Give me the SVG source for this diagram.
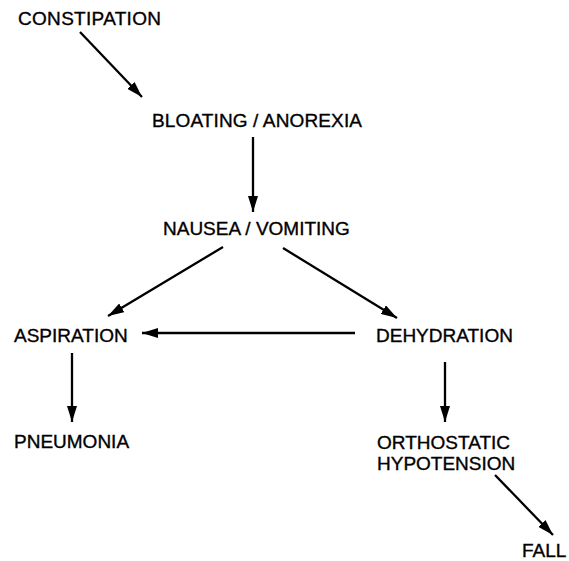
<svg xmlns="http://www.w3.org/2000/svg" width="569" height="561" viewBox="0 0 569 561">
  <style>
    .lbl { font-family: "Liberation Sans", Arial, sans-serif; font-size: 19px; fill: #000; stroke: #000; stroke-width: 0.35; }
    .edge { stroke: #000; stroke-width: 2.3; fill: none; marker-end: url(#head); }
  </style>
  <defs>
    <marker id="head" viewBox="0 0 16 10" refX="16" refY="5" markerWidth="16" markerHeight="10" markerUnits="userSpaceOnUse" orient="auto">
      <path d="M0,0 L16,5 L0,10 z" fill="#000"/>
    </marker>
  </defs>
  <rect width="569" height="561" fill="#fff"/>

  <g id="edges">
    <line class="edge" x1="80" y1="32" x2="142" y2="97"/>
    <line class="edge" x1="253" y1="137" x2="253" y2="212"/>
    <line class="edge" x1="223" y1="247" x2="108" y2="316"/>
    <line class="edge" x1="283" y1="248" x2="397" y2="318"/>
    <line class="edge" x1="355" y1="333" x2="142" y2="333"/>
    <line class="edge" x1="72" y1="353" x2="72" y2="422"/>
    <line class="edge" x1="445" y1="362" x2="445" y2="422"/>
    <line class="edge" x1="495" y1="475" x2="553" y2="535"/>
  </g>

  <g id="constipation"><text class="lbl" x="18" y="25" textLength="143" lengthAdjust="spacing">CONSTIPATION</text></g>
  <g id="bloating"><text class="lbl" x="152" y="127" textLength="210" lengthAdjust="spacing">BLOATING / ANOREXIA</text></g>
  <g id="nausea"><text class="lbl" x="163" y="235">NAUSEA / VOMITING</text></g>
  <g id="aspiration"><text class="lbl" x="14" y="342">ASPIRATION</text></g>
  <g id="dehydration"><text class="lbl" x="376" y="342">DEHYDRATION</text></g>
  <g id="pneumonia"><text class="lbl" x="14" y="448">PNEUMONIA</text></g>
  <g id="orthostatic">
    <text class="lbl" x="377" y="449">ORTHOSTATIC</text>
    <text class="lbl" x="377" y="470">HYPOTENSION</text>
  </g>
  <g id="fall"><text class="lbl" x="522" y="557">FALL</text></g>
</svg>
